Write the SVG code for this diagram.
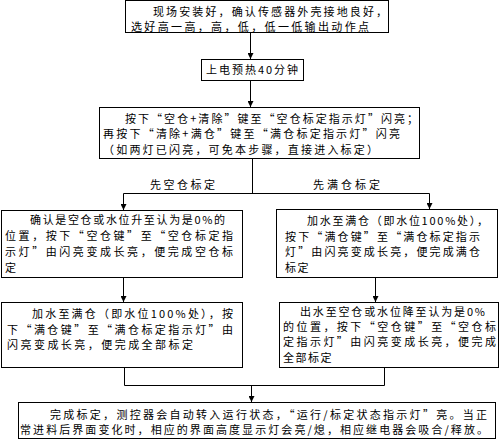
<svg xmlns="http://www.w3.org/2000/svg" width="500" height="441" viewBox="0 0 500 441">
<style>
.box{fill:#fff;stroke:#000;stroke-width:1}
.ln{fill:none;stroke:#000;stroke-width:1}
text{font-family:"Noto Sans CJK SC","Liberation Sans",sans-serif;font-size:11px;fill:#000}
</style>
<defs>
<marker id="ah" viewBox="0 0 6 6" refX="6" refY="3" markerWidth="6" markerHeight="6" markerUnits="userSpaceOnUse" orient="auto">
<path d="M0,0 L6,3 L0,6 Z" fill="#000"/>
</marker>
</defs>
<rect width="500" height="441" fill="#fff"/>
<g id="connectors">
<line class="ln" x1="250.5" y1="32.5" x2="250.5" y2="59" marker-end="url(#ah)"/>
<line class="ln" x1="250.5" y1="80.5" x2="250.5" y2="107" marker-end="url(#ah)"/>
<polyline class="ln" points="252.5,158.5 252.5,193.5"/>
<polyline class="ln" points="123.5,193.5 429.5,193.5"/>
<line class="ln" x1="123.5" y1="193.5" x2="123.5" y2="210" marker-end="url(#ah)"/>
<line class="ln" x1="429.5" y1="193.5" x2="429.5" y2="209" marker-end="url(#ah)"/>
<line class="ln" x1="123.5" y1="277.5" x2="123.5" y2="302" marker-end="url(#ah)"/>
<line class="ln" x1="375.5" y1="277.5" x2="375.5" y2="302" marker-end="url(#ah)"/>
<polyline class="ln" points="124.5,367.5 124.5,385.5 384.5,385.5 384.5,367.5"/>
<line class="ln" x1="251.5" y1="385.5" x2="251.5" y2="402" marker-end="url(#ah)"/>
<text x="150" y="189" textLength="65" lengthAdjust="spacing">先空仓标定</text>
<text x="313" y="189" textLength="67" lengthAdjust="spacing">先满仓标定</text>
</g>
<g id="n1">
<rect class="box" x="125.5" y="0.5" width="263" height="32"/>
<text x="153" y="16" textLength="234" lengthAdjust="spacing">现场安装好，确认传感器外壳接地良好，</text>
<text x="131" y="31" textLength="238" lengthAdjust="spacing">选好高一高，高，低，低一低输出动作点</text>
</g>
<g id="n2">
<rect class="box" x="201.5" y="59.5" width="102" height="21"/>
<text x="206" y="74" textLength="92" lengthAdjust="spacing">上电预热40分钟</text>
</g>
<g id="n3">
<rect class="box" x="99.5" y="107.5" width="320" height="51"/>
<text x="125" y="123" textLength="293" lengthAdjust="spacing">按下“空仓+清除”键至“空仓标定指示灯”闪亮；</text>
<text x="103" y="138" textLength="297" lengthAdjust="spacing">再按下“清除+满仓”键至“满仓标定指示灯”闪亮</text>
<text x="103" y="154" textLength="275" lengthAdjust="spacing">（如两灯已闪亮，可免本步骤，直接进入标定）</text>
</g>
<g id="n4">
<rect class="box" x="1.5" y="210.5" width="241" height="67"/>
<text x="30" y="224" textLength="195" lengthAdjust="spacing">确认是空仓或水位升至认为是0%的</text>
<text x="5" y="240" textLength="228" lengthAdjust="spacing">位置，按下“空仓键”至“空仓标定指</text>
<text x="5" y="256" textLength="228" lengthAdjust="spacing">示灯”由闪亮变成长亮，便完成空仓标</text>
<text x="5" y="272">定</text>
</g>
<g id="n5">
<rect class="box" x="276.5" y="209.5" width="221" height="68"/>
<text x="307" y="225" textLength="181" lengthAdjust="spacing">加水至满仓（即水位100%处），</text>
<text x="285" y="241" textLength="195" lengthAdjust="spacing">按下“满仓键”至“满仓标定指示</text>
<text x="285" y="256" textLength="195" lengthAdjust="spacing">灯”由闪亮变成长亮，便完成满仓</text>
<text x="285" y="272" letter-spacing="1.5">标定</text>
</g>
<g id="n6">
<rect class="box" x="1.5" y="302.5" width="241" height="65"/>
<text x="32" y="318" textLength="201" lengthAdjust="spacing">加水至满仓（即水位100%处），按</text>
<text x="7" y="334" textLength="226" lengthAdjust="spacing">下“满仓键”至“满仓标定指示灯”由</text>
<text x="7" y="349" textLength="186" lengthAdjust="spacing">闪亮变成长亮，便完成全部标定</text>
</g>
<g id="n7">
<rect class="box" x="279.5" y="302.5" width="219" height="65"/>
<text x="300" y="316" textLength="185" lengthAdjust="spacing">出水至空仓或水位降至认为是0%</text>
<text x="283" y="331" textLength="213" lengthAdjust="spacing">的位置，按下“空仓键”至“空仓标</text>
<text x="283" y="346" textLength="213" lengthAdjust="spacing">定指示灯”由闪亮变成长亮，便完成</text>
<text x="283" y="362" letter-spacing="1.5">全部标定</text>
</g>
<g id="n8">
<rect class="box" x="18.5" y="402.5" width="477" height="36"/>
<text x="50" y="419" textLength="437" lengthAdjust="spacing">完成标定，测控器会自动转入运行状态，“运行/标定状态指示灯”亮。当正</text>
<text x="20" y="434" textLength="468" lengthAdjust="spacing">常进料后界面变化时，相应的界面高度显示灯会亮/熄，相应继电器会吸合/释放。</text>
</g>
</svg>
